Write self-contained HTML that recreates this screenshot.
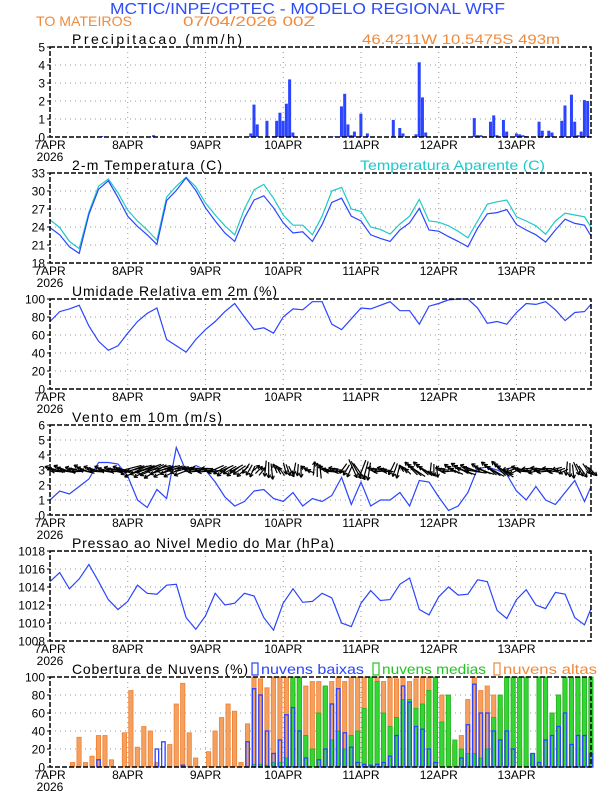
<!DOCTYPE html>
<html><head><meta charset="utf-8">
<style>
html,body{margin:0;padding:0;background:#fff;}
svg{display:block;font-family:"Liberation Sans",sans-serif;}
</style></head>
<body>
<svg id="chart" width="612" height="792" viewBox="0 0 612 792" xmlns="http://www.w3.org/2000/svg">
<text x="110" y="14" font-size="16" fill="#2d4cf5" textLength="395" lengthAdjust="spacingAndGlyphs">MCTIC/INPE/CPTEC - MODELO REGIONAL WRF</text>
<text x="36" y="26" font-size="14" fill="#f08a3c" textLength="96" lengthAdjust="spacingAndGlyphs">TO MATEIROS</text>
<text x="183" y="26" font-size="14" fill="#f08a3c" textLength="132" lengthAdjust="spacingAndGlyphs">07/04/2026 00Z</text>
<text x="362" y="44" font-size="14" fill="#f08a3c" textLength="198" lengthAdjust="spacingAndGlyphs">46.4211W 10.5475S 493m</text>
<g id="panels"></g>
</svg>
<script>
const precipHour=[16,32,62,63,64,67,69,70,71,72,73,74,75,88,90,91,92,93,94,96,98,106,108,109,113,114,115,116,131,132,133,136,137,138,140,141,144,145,146,147,151,152,154,155,158,159,161,162,163,164,165,166];
const precipVal=[0.05,0.1,0.2,1.8,0.7,0.9,0.05,0.9,1.35,0.9,1.85,3.2,0.25,0.03,1.7,2.4,0.7,0.1,0.3,1.3,0.2,0.95,0.5,0.2,0.15,4.15,2.2,0.25,1.05,0.1,0.1,0.85,1.2,0.1,0.95,0.3,0.2,0.15,0.1,0.05,0.85,0.35,0.35,0.25,0.9,1.75,2.35,0.85,0.1,0.3,2.05,2.0];
const tempVal=[23.9,22.7,20.7,19.6,26.1,30.3,31.7,28.9,25.8,24.1,22.7,21.1,28.4,30.1,32.2,30.1,27.2,25.0,23.0,21.6,25.5,28.5,29.2,27.2,24.7,23.0,23.2,21.6,24.4,28.1,28.8,25.8,25.0,22.7,22.1,21.6,23.5,24.7,27.1,23.5,23.3,22.4,21.6,20.7,23.8,26.2,26.4,26.9,24.4,23.5,22.7,21.5,23.5,25.3,24.6,24.3,22.5];
const apparentVal=[25.2,23.9,21.6,20.4,26.5,30.8,32.0,29.7,26.8,25.0,23.5,21.8,29.0,30.8,32.3,30.7,28.0,26.0,24.2,22.7,27.0,30.2,31.1,28.8,26.0,24.3,24.3,22.7,25.8,30.0,30.6,27.0,26.6,24.0,23.6,22.8,24.5,25.8,28.6,25.0,24.8,24.2,23.3,22.2,25.0,27.8,28.2,28.5,25.7,25.0,24.2,22.8,25.0,26.3,26.0,25.7,24.0];
const rhVal=[75,86,89,93,70,53,43,48,62,75,84,90,55,48,41,55,66,75,86,95,80,66,68,62,80,89,88,97,97,72,66,78,90,89,93,97,87,87,72,92,95,99,100,100,90,73,75,72,85,95,94,97,88,76,85,86,94];
const windVal=[1.0,1.6,1.4,1.9,2.4,3.5,3.5,3.4,2.6,1.0,0.5,1.7,1.1,4.5,2.9,3.3,3.0,2.2,1.2,0.6,0.9,1.6,1.7,1.1,0.9,1.5,0.6,1.1,0.9,1.3,2.5,0.7,2.2,0.6,1.0,1.0,1.5,0.6,2.3,2.2,1.2,0.3,0.6,1.5,3.1,3.2,3.0,2.7,1.6,1.0,1.9,1.0,0.7,1.5,2.3,0.9,1.9];
const windAngle=[170,165,175,160,170,165,175,170,200,200,205,200,200,195,180,180,185,210,210,215,240,45,270,120,290,265,150,90,170,180,240,300,255,180,175,250,130,140,145,270,180,150,155,165,155,145,140,200,170,190,180,185,200,270,300,310];
const windMag=[14,16,12,15,14,12,12,14,25,26,26,25,24,22,12,12,12,15,15,15,12,10,16,10,12,12,8,14,10,10,12,20,18,10,10,14,8,18,20,12,10,14,20,20,18,20,20,12,14,12,14,10,10,14,14,12];
const presVal=[1014.6,1015.6,1013.8,1014.9,1016.5,1014.6,1012.6,1011.5,1012.4,1014.2,1013.3,1013.2,1014.2,1014.3,1010.6,1009.3,1010.8,1013.3,1012.0,1012.2,1013.3,1013.0,1010.6,1009.2,1012.2,1013.8,1012.3,1012.4,1013.3,1012.8,1010.0,1009.6,1012.2,1013.6,1012.5,1012.6,1014.3,1015.0,1011.5,1010.9,1012.9,1014.0,1013.1,1013.2,1014.8,1014.6,1011.4,1010.5,1012.6,1013.7,1012.0,1011.6,1013.4,1013.2,1010.6,1009.8,1011.6];
const cloudHigh=[0,0,0,5,33,5,12,35,35,8,0,38,85,22,45,40,5,0,25,70,93,38,10,0,17,40,55,70,62,5,48,100,98,88,100,100,100,95,100,90,95,95,90,95,100,95,100,100,100,98,100,95,100,98,100,95,98,100,100,95,80,40,25,35,75,100,85,90,80,65,40,30,20,10,10,20,40,60,80,95,90,60,50,40];
const cloudMid=[0,0,0,0,0,0,0,0,0,0,0,0,0,0,0,0,0,0,0,0,0,0,0,0,0,0,0,0,0,0,0,3,3,2,5,5,10,100,100,35,20,60,90,30,40,20,35,40,65,100,95,60,45,55,75,75,65,70,85,100,50,80,30,20,15,15,10,20,55,80,100,100,100,100,15,100,100,60,80,100,100,100,100,100];
const cloudLow=[0,0,0,0,0,0,0,8,0,0,0,0,0,0,0,0,20,28,0,0,2,0,0,0,0,0,0,0,0,0,28,87,80,40,15,30,58,66,40,10,0,8,20,70,87,38,22,5,3,2,3,5,12,35,90,72,45,42,20,5,0,0,0,10,47,92,60,60,40,30,40,20,0,0,15,5,30,35,45,60,25,35,35,15];
const dayLabels=["7APR","8APR","9APR","10APR","11APR","12APR","13APR"];
const precipTicks=[0,1,2,3,4,5];
const tempTicks=[18,21,24,27,30,33];
const rhTicks=[0,20,40,60,80,100];
const windTicks=[0,1,2,3,4,5,6];
const presTicks=[1008,1010,1012,1014,1016,1018];
const cloudTicks=[0,20,40,60,80,100];

const NS="http://www.w3.org/2000/svg";
const root=document.getElementById('panels');
const X0=50, XW=541, HMAX=167, PH=90;
const lineHours=[];for(let k=0;k<56;k++)lineHours.push(k*3);lineHours.push(167);
function xs(h){return X0+h*XW/HMAX;}
function mk(tag,attrs,parent){const e=document.createElementNS(NS,tag);for(const k in attrs)e.setAttribute(k,attrs[k]);(parent||root).appendChild(e);return e;}
function panel(name,top,ticks,title){
  const g=mk('g',{});
  
  
  const lo=ticks[0],hi=ticks[ticks.length-1];
  const ys=v=>top+PH-(v-lo)/(hi-lo)*PH;
  ticks.forEach(t=>{
    const y=ys(t);
    if(t!==lo&&t!==hi){const l=mk('line',{x1:X0,x2:X0+XW,y1:y,y2:y,stroke:'#999','stroke-width':1,'stroke-dasharray':'1,4'},g);
    }
    const tx=mk('text',{x:X0-5,y:y+4.5,'font-size':12,'text-anchor':'end',fill:'#000','font-weight':'500'},g);
    tx.textContent=t;
    
    mk('line',{x1:X0-3,x2:X0,y1:y,y2:y,stroke:'#000'},g);
  });
  dayLabels.forEach((d,i)=>{
    const x=xs(i*24);
    if(i>0){const l=mk('line',{x1:x,x2:x,y1:top,y2:top+PH,stroke:'#999','stroke-width':1,'stroke-dasharray':'1,4'},g);
    }
    const tx=mk('text',{x:x,y:top+PH+12,'font-size':12,'text-anchor':'middle',fill:'#000'},g);
    tx.textContent=d;
    
  });
  const yr=mk('text',{x:xs(0),y:top+PH+24,'font-size':12,'text-anchor':'middle',fill:'#000'},g);
  yr.textContent='2026';
  
  const tt=mk('text',{x:72,y:top-3,'font-size':14,fill:'#000'},g);
  tt.textContent=title;
  
  return {g,ys,top,lo,hi,title:tt};
}
function frame(p){
  const r=mk('rect',{x:X0,y:p.top,width:XW,height:PH,fill:'none',stroke:'#000','stroke-width':1.5,'stroke-dasharray':'5,2'},p.g);
  
}
function line(p,vals,color,name){
  const pts=vals.map((v,i)=>xs(lineHours[i]).toFixed(1)+','+p.ys(v).toFixed(1)).join(' ');
  const l=mk('polyline',{points:pts,fill:'none',stroke:color,'stroke-width':1.2},p.g);
  
}
// Precip
const p1=panel('precipitation',47,precipTicks,'Precipitacao (mm/h)');
p1.title.setAttribute('textLength','170');
precipHour.forEach((h,i)=>{
  const y=p1.ys(precipVal[i]);
  const b=mk('rect',{x:xs(h)-1.6,y:y,width:3.0,height:p1.ys(0)-y,fill:'#2a44ff'},p1.g);
  
});
frame(p1);
// Temp
const p2=panel('temperature',173,tempTicks,'2-m Temperatura (C)');
p2.title.setAttribute('textLength','150');
const ta=mk('text',{x:360,y:170,'font-size':14,fill:'#1ec8c8',textLength:185,lengthAdjust:'spacingAndGlyphs'},p2.g);
ta.textContent='Temperatura Aparente (C)';

line(p2,apparentVal,'#20c8c8','apparent-temp-line');
line(p2,tempVal,'#2a44ff','temp-line');
frame(p2);
// RH
const p3=panel('humidity',299,rhTicks,'Umidade Relativa em 2m (%)');
p3.title.setAttribute('textLength','205');
line(p3,rhVal,'#2a44ff','rh-line');
frame(p3);
// Wind
const p4=panel('wind',425,windTicks,'Vento em 10m (m/s)');
p4.title.setAttribute('textLength','150');
line(p4,windVal,'#2a44ff','wind-speed-line');
windAngle.forEach((a,i)=>{
  for(let s=0;s<3;s++){
    const cx=xs(i*3+s+0.5), cy=p4.ys(3)+(s-1)*1.5;
    const r=(a+(s-1)*6)*Math.PI/180, L=windMag[i];
    const dx=Math.cos(r)*L/2, dy=-Math.sin(r)*L/2;
    const x1=cx-dx,y1=cy-dy,x2=cx+dx,y2=cy+dy;
    const ag=mk('g',{},p4.g);
    
    
    mk('line',{x1:x1,y1:y1,x2:x2,y2:y2,stroke:'#000','stroke-width':1.2},ag);
    const hl=4;
    [0.5,-0.5].forEach(o=>{
      const rr=r+Math.PI+o;
      mk('line',{x1:x2,y1:y2,x2:x2+Math.cos(rr)*hl,y2:y2-Math.sin(rr)*hl,stroke:'#000','stroke-width':1.2},ag);
    });
  }
});
frame(p4);
// Pressure
const p5=panel('pressure',551,presTicks,'Pressao ao Nivel Medio do Mar (hPa)');
p5.title.setAttribute('textLength','262');
line(p5,presVal,'#2a44ff','pressure-line');
frame(p5);
// Clouds
const p6=panel('clouds',677,cloudTicks,'Cobertura de Nuvens (%)');
p6.title.setAttribute('textLength','176');
const bw=XW/HMAX*2;
cloudHigh.forEach((v,i)=>{if(v<=0)return;const y=p6.ys(v);
  const b=mk('rect',{x:xs(i*2)+1,y:y,width:bw-2.2,height:p6.ys(0)-y,fill:'#f4a060',stroke:'#f08030','stroke-width':0.8},p6.g);
  });
cloudMid.forEach((v,i)=>{if(v<=0)return;const y=p6.ys(v);
  const b=mk('rect',{x:xs(i*2)+1,y:y,width:bw-2.2,height:p6.ys(0)-y,fill:'#33d633',stroke:'#1fb01f','stroke-width':0.8},p6.g);
  });
cloudLow.forEach((v,i)=>{const y=p6.ys(v);
  const b=mk('rect',{x:xs(i*2)+1.5,y:y,width:bw-3,height:p6.ys(0)-y,fill:'none',stroke:'#2a44ff','stroke-width':1.3},p6.g);
  });
const legend=[['nuvens baixas','#2a44ff',250,103],['nuvens medias','#22c422',371,104],['nuvens altas','#f08a3c',492,94]];
legend.forEach(l=>{
  const lg=mk('g',{},p6.g);
  
  
  mk('rect',{x:l[2]+2,y:663,width:6,height:12,fill:'none',stroke:l[1],'stroke-width':1.2},lg);
  const t=mk('text',{x:l[2]+11,y:674,'font-size':14,fill:l[1],textLength:l[3],lengthAdjust:'spacingAndGlyphs'},lg);
  t.textContent=l[0];
});
frame(p6);
</script>
</body></html>
